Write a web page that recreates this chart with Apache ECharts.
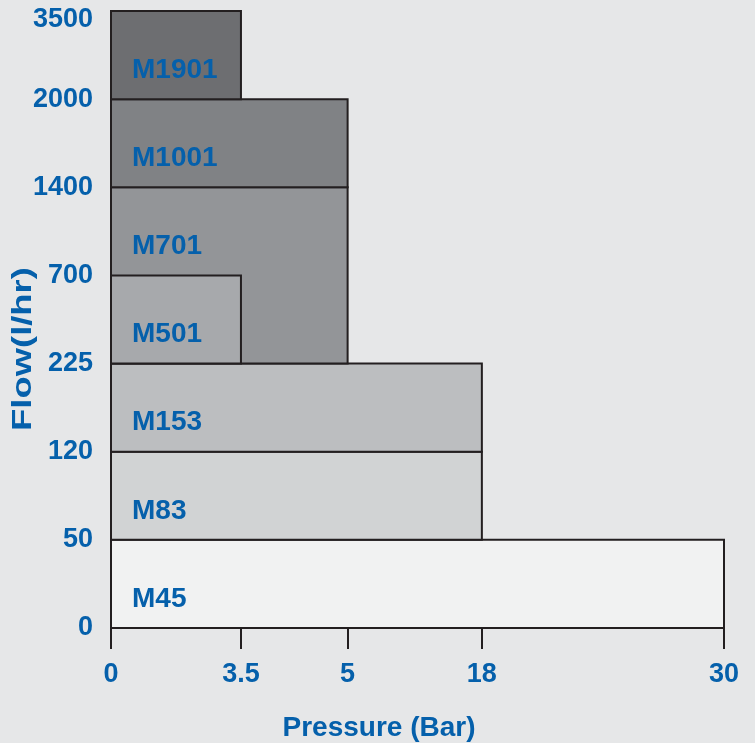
<!DOCTYPE html>
<html>
<head>
<meta charset="utf-8">
<script src="https://cdn.jsdelivr.net/npm/echarts@6/dist/echarts.min.js"></script>
<style>
html,body{margin:0;padding:0;background:#e6e7e8;}
#chart{width:755px;height:743px;}
</style>
</head>
<body>
<div id="chart"></div>
<script>
// ---- data ----
const models = ['M45', 'M83', 'M153', 'M701', 'M501', 'M1001', 'M1901'];
const maxPressure = [30, 18, 18, 5, 3.5, 5, 3.5];      // Bar
const flowFrom = [0, 50, 120, 225, 225, 1400, 2000];    // l/hr
const flowTo = [50, 120, 225, 1400, 700, 2000, 3500];   // l/hr
const fills = ['#f1f2f2', '#d1d3d4', '#bcbec0', '#939598', '#a7a9ac', '#808285', '#6d6e71'];

const yTicks = [0, 50, 120, 225, 700, 1400, 2000, 3500];
const xTicks = [0, 3.5, 5, 18, 30];

// non-linear pressure axis layout (relative tick positions on the drawn axis)
const xTickPos = [0, 0.212, 0.386, 0.605, 1];

const BLUE = '#0560ab';
const INK = '#231f20';
const FONT = '"Liberation Sans", Arial, Helvetica, sans-serif';

function xPos(v) {
  for (let i = 1; i < xTicks.length; i++) {
    if (v <= xTicks[i]) {
      const t = (v - xTicks[i - 1]) / (xTicks[i] - xTicks[i - 1]);
      return xTickPos[i - 1] + t * (xTickPos[i] - xTickPos[i - 1]);
    }
  }
  return 1;
}
function yIdx(v) { return yTicks.indexOf(v); }

const boxData = models.map((m, i) => [0, xPos(maxPressure[i]), yIdx(flowFrom[i]), yIdx(flowTo[i]), i]);

const chart = echarts.init(document.getElementById('chart'), null, {renderer: 'canvas'});
chart.setOption({
  backgroundColor: '#e6e7e8',
  animation: false,
  grid: {left: 111, right: 31, top: 11, bottom: 115, containLabel: false, outerBoundsMode: 'none'},
  xAxis: {
    type: 'value', min: 0, max: 1,
    axisLine: {show: true, lineStyle: {color: INK, width: 2}},
    axisTick: {show: true, length: 21, lineStyle: {color: INK, width: 2}, customValues: xTicks.map(xPos)},
    axisLabel: {
      customValues: xTicks.map(xPos),
      margin: 33, color: BLUE, fontSize: 27, fontWeight: 'bold', fontFamily: FONT,
      formatter: function (v) {
        let best = 0;
        xTickPos.forEach((p, i) => { if (Math.abs(p - v) < Math.abs(xTickPos[best] - v)) best = i; });
        return String(xTicks[best]);
      }
    },
    splitLine: {show: false},
    name: 'Pressure (Bar)', nameLocation: 'middle', nameGap: 86,
    nameTextStyle: {color: BLUE, fontSize: 28, fontWeight: 'bold', fontFamily: FONT, padding: [0, 77, 0, 0]}
  },
  yAxis: {
    type: 'value', min: 0, max: yTicks.length - 1, interval: 1,
    axisLine: {show: false}, axisTick: {show: false}, splitLine: {show: false},
    axisLabel: {
      margin: 18, color: BLUE, fontSize: 27, fontWeight: 'bold', fontFamily: FONT,
      formatter: function (v) {
        const s = String(yTicks[v]);
        return v === yTicks.length - 1 ? '{t|' + s + '}' : s;
      },
      rich: {t: {color: BLUE, fontSize: 27, fontWeight: 'bold', fontFamily: FONT, padding: [18, 0, 0, 0]}}
    }
  },
  graphic: [{
    type: 'text',
    x: 23, y: 349,
    rotation: Math.PI / 2,
    scaleX: 1.3,
    style: {text: 'Flow(l/hr)', fill: BLUE, font: 'bold 28px ' + FONT, textAlign: 'center', textVerticalAlign: 'middle'}
  }],
  series: [{
    type: 'custom',
    data: boxData,
    encode: {x: [0, 1], y: [2, 3]},
    renderItem: function (params, api) {
      const i = api.value(4);
      const p0 = api.coord([api.value(0), api.value(2)]);
      const p1 = api.coord([api.value(1), api.value(3)]);
      const lab = api.coord([0, api.value(3) - 0.5]);
      return {
        type: 'group',
        children: [{
          type: 'rect',
          shape: {x: p0[0], y: p1[1], width: p1[0] - p0[0], height: p0[1] - p1[1]},
          style: {fill: fills[i], stroke: INK, lineWidth: 2}
        }, {
          type: 'text',
          x: lab[0] + 21, y: lab[1] + 15,
          style: {text: models[i], fill: BLUE, font: 'bold 28px ' + FONT, textAlign: 'left', textVerticalAlign: 'middle'}
        }]
      };
    }
  }]
});
</script>
</body>
</html>
